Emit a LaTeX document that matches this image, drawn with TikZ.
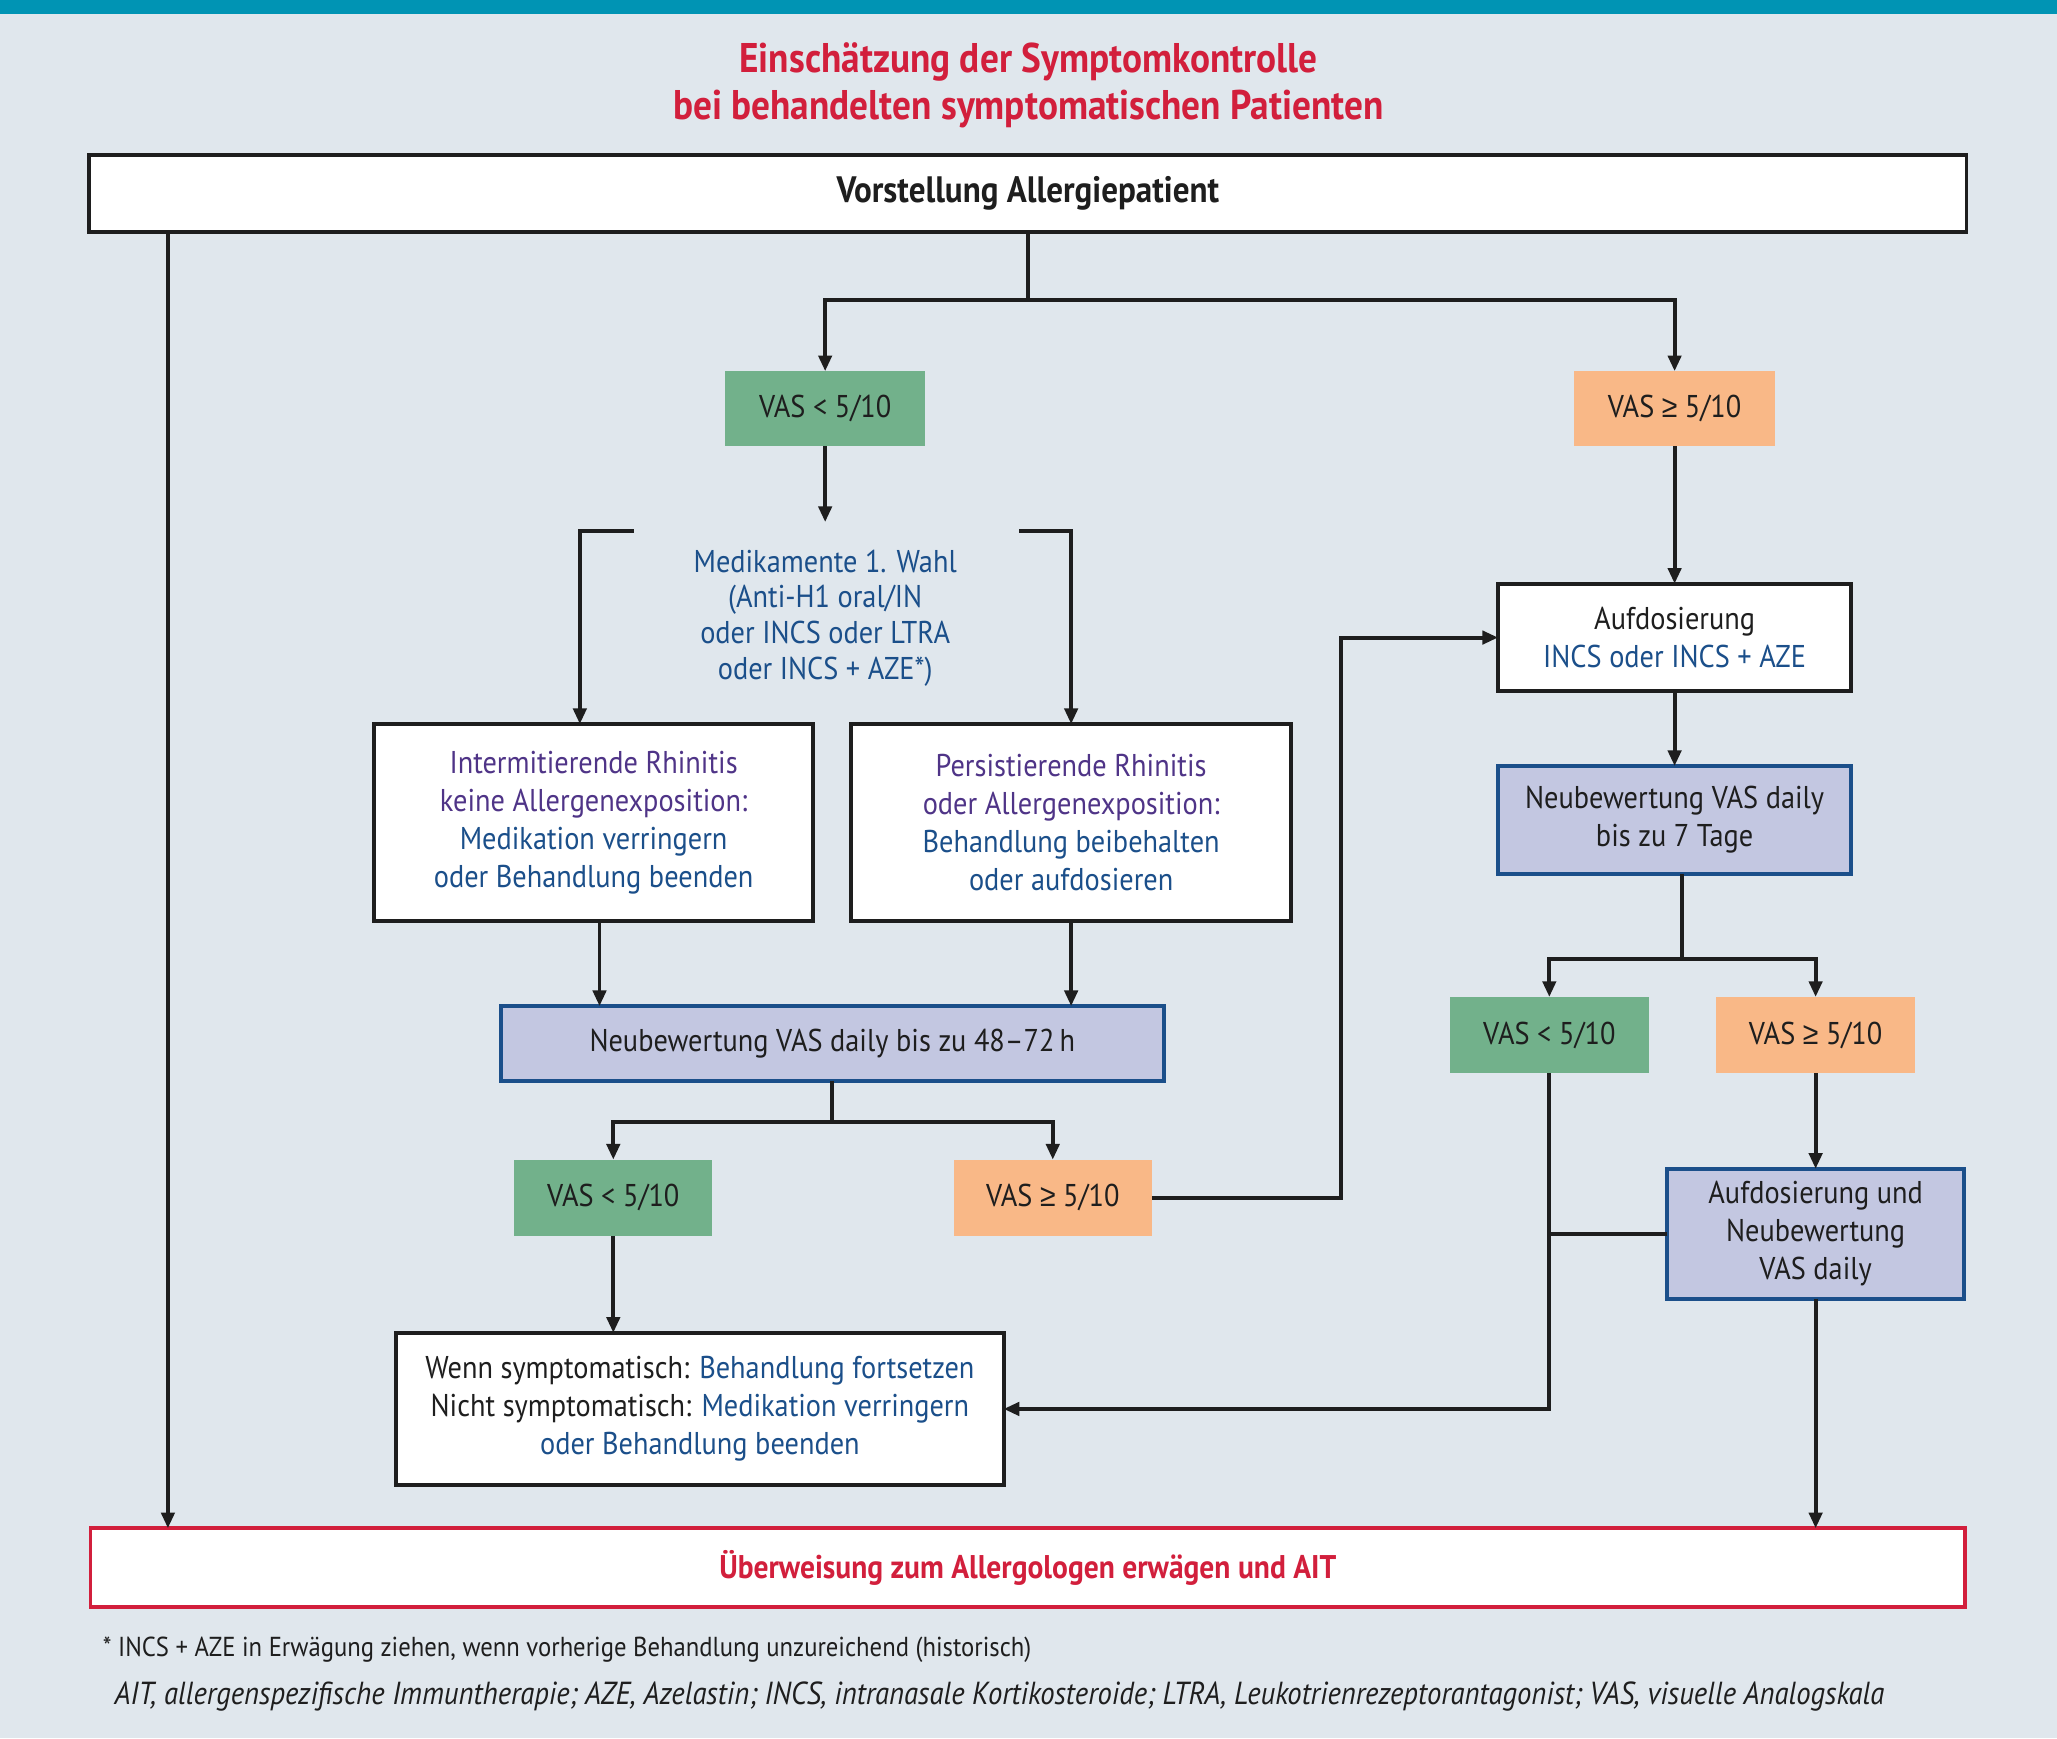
\documentclass[tikz,border=0pt]{standalone}
\usepackage{fontspec}
\setmainfont{PT Sans}[FakeStretch=0.9]
\newfontfamily\symf{Liberation Sans}[FakeStretch=0.9]
\usetikzlibrary{arrows.meta,calc}
\definecolor{bgc}{HTML}{E0E7ED}
\definecolor{tealbar}{HTML}{0094B4}
\definecolor{vred}{HTML}{D21F3C}
\definecolor{vgreen}{HTML}{72B18B}
\definecolor{vorange}{HTML}{F9B887}
\definecolor{lav}{HTML}{C3C7E1}
\definecolor{vblue}{HTML}{1B4F8A}
\definecolor{vpurple}{HTML}{4F3487}
\definecolor{ink}{HTML}{1E1E1E}
\newcommand{\geqs}{{\symf ≥}}
\begin{document}
\begin{tikzpicture}[x=0.5pt,y=-0.5pt,
  base/.style={inner sep=0pt, outer sep=0pt, align=center, font=\fontsize{12}{14.4}\selectfont, text=ink, line width=1.5pt},
  wbox/.style={base, draw=ink, fill=white},
  gbox/.style={base, fill=vgreen},
  obox/.style={base, fill=vorange},
  lbox/.style={base, draw=vblue, fill=lav},
  rbox/.style={base, draw=vred, fill=white},
  ln/.style={line width=1.5pt, draw=ink},
  arr/.style={ln, -{Triangle[width=5pt,length=6pt]}}]
\useasboundingbox (0,0) rectangle (1568,1325);
\fill[bgc] (0,0) rectangle (1568,1325);
\fill[tealbar] (0,0) rectangle (1568,11);

\node[font=\fontsize{15.8}{18}\selectfont\bfseries, text=vred, align=center] (title) at (784,65)
  {Einschätzung der Symptomkontrolle\\bei behandelten symptomatischen Patienten};

\node[wbox, minimum width=715.5pt, minimum height=29.5pt, font=\fontsize{14}{16}\selectfont\bfseries] (top) at (783.5,147.5) {\raisebox{-1pt}{Vorstellung Allergiepatient}};

\node[gbox, minimum width=76pt, minimum height=28.5pt] (g1) at (629,311.5) {VAS < 5/10};
\node[obox, minimum width=76.5pt, minimum height=28.5pt] (o1) at (1276.5,311.5) {VAS \geqs{} 5/10};

\node[base, text=vblue, font=\fontsize{12}{13.6}\selectfont] (med) at (629,471)
  {Medikamente 1. Wahl\\(Anti-H1 oral/IN\\oder INCS oder LTRA\\oder INCS + AZE*)};

\node[wbox, minimum width=167.5pt, minimum height=75pt] (int) at (452.5,627)
  {\textcolor{vpurple}{Intermitierende Rhinitis}\\\textcolor{vpurple}{keine Allergenexposition:}\\\textcolor{vblue}{Medikation verringern}\\\textcolor{vblue}{oder Behandlung beenden}};
\node[wbox, minimum width=167.5pt, minimum height=75pt] (per) at (816.5,627)
  {\textcolor{vpurple}{Persistierende Rhinitis}\\\textcolor{vpurple}{oder Allergenexposition:}\\\textcolor{vblue}{Behandlung beibehalten}\\\textcolor{vblue}{oder aufdosieren}};

\node[lbox, minimum width=252.5pt, minimum height=28.5pt] (neu1) at (634.5,795.5) {Neubewertung VAS daily bis zu 48–72\,h};

\node[gbox, minimum width=75.5pt, minimum height=29pt] (g2) at (467.5,913) {VAS < 5/10};
\node[obox, minimum width=75.5pt, minimum height=29pt] (o2) at (802.5,913) {VAS \geqs{} 5/10};

\node[wbox, minimum width=231.5pt, minimum height=58pt] (wenn) at (533.5,1074)
  {Wenn symptomatisch: \textcolor{vblue}{Behandlung fortsetzen}\\Nicht symptomatisch: \textcolor{vblue}{Medikation verringern}\\\textcolor{vblue}{oder Behandlung beenden}};

\node[wbox, minimum width=134.5pt, minimum height=41pt] (auf) at (1276.5,486) {Aufdosierung\\\textcolor{vblue}{INCS oder INCS + AZE}};
\node[lbox, minimum width=134.5pt, minimum height=41pt] (neu2) at (1276.5,625) {Neubewertung VAS daily\\bis zu 7 Tage};

\node[gbox, minimum width=76pt, minimum height=29pt] (g3) at (1181,789) {VAS < 5/10};
\node[obox, minimum width=76pt, minimum height=29pt] (o3) at (1384,789) {VAS \geqs{} 5/10};

\node[lbox, minimum width=113pt, minimum height=49.5pt] (aufn) at (1384,940.5) {Aufdosierung und\\Neubewertung\\VAS daily};

\node[rbox, minimum width=714.5pt, minimum height=30pt, font=\fontsize{12.5}{14}\selectfont\bfseries, text=vred] (bot) at (783.5,1195)
  {Überweisung zum Allergologen erwägen und AIT};

\node[anchor=base west, inner sep=0pt, font=\fontsize{10.45}{12}\selectfont, text=ink] (fn1) at (78,1263)
  {* INCS + AZE in Erwägung ziehen, wenn vorherige Behandlung unzureichend (historisch)};
\node[anchor=base west, inner sep=0pt, font=\fontsize{12.15}{14}\selectfont\itshape, text=ink] (fn2) at (87,1299)
  {AIT, allergenspezifische Immuntherapie; AZE, Azelastin; INCS, intranasale Kortikosteroide; LTRA, Leukotrienrezeptorantagonist; VAS, visuelle Analogskala};

% coordinates
\coordinate (lx) at (128,0);
\coordinate (j1) at (783.5,229);
\coordinate (medin) at (629,398);
\coordinate (bl) at (483,405);
\coordinate (blx) at (442,0);
\coordinate (br) at (777,405);
\coordinate (ix) at (457,0);
\coordinate (j2) at (634.5,855);
\coordinate (xr) at (1022,486);
\coordinate (nx) at (1282,666);
\coordinate (j3) at (1282,731);

% connectors
\draw[arr] (top.south -| lx) -- (bot.north -| lx);
\draw[ln] (top.south) -- (j1);
\draw[arr] (j1) -| (g1.north);
\draw[arr] (j1) -| (o1.north);
\draw[arr] (g1.south) -- (medin);
\draw[arr] (bl) -| (int.north -| blx);
\draw[arr] (br) -| (per.north);
\draw[arr] (int.south -| ix) -- (neu1.north -| ix);
\draw[arr] (per.south) -- (neu1.north -| per.south);
\draw[ln] (neu1.south) -- (j2);
\draw[arr] (j2) -| (g2.north);
\draw[arr] (j2) -| (o2.north);
\draw[arr] (o2.east) -| (xr) -- (auf.west);
\draw[arr] (g2.south) -- (wenn.north -| g2.south);
\draw[arr] (o1.south) -- (auf.north);
\draw[arr] (auf.south) -- (neu2.north);
\draw[ln] (nx) -- (j3);
\draw[arr] (j3) -| (g3.north);
\draw[arr] (j3) -| (o3.north);
\draw[arr] (o3.south) -- (aufn.north);
\draw[arr] (g3.south) |- (wenn.east);
\draw[ln] (aufn.west) -- (aufn.west -| g3.south);
\draw[arr] (aufn.south) -- (bot.north -| aufn.south);
\end{tikzpicture}
\end{document}
